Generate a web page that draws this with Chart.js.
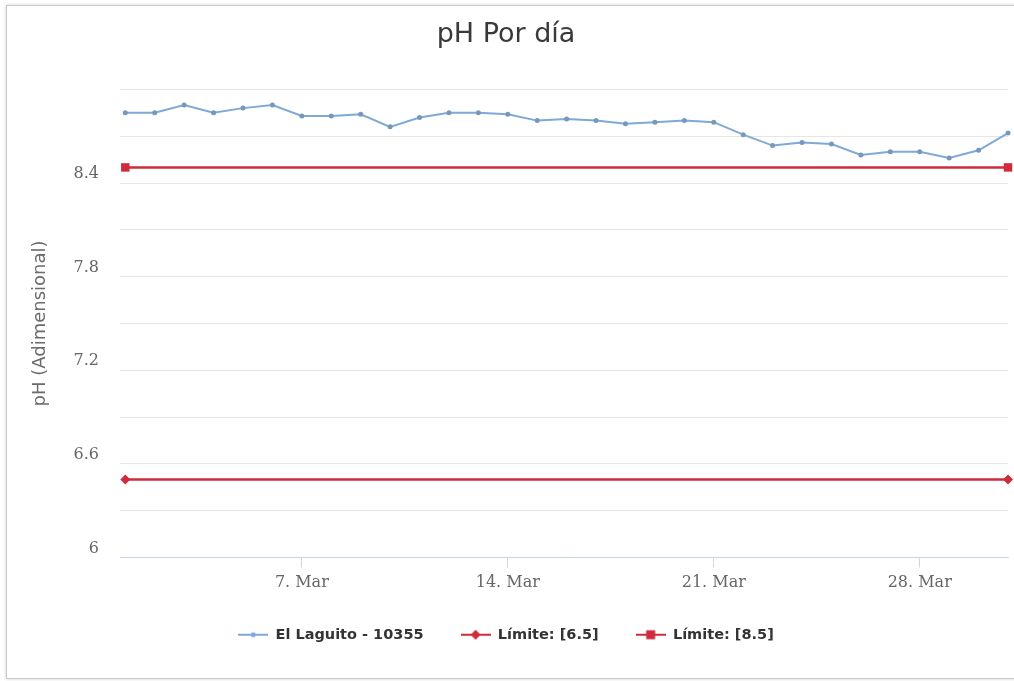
<!DOCTYPE html>
<html>
<head>
<meta charset="utf-8">
<title>pH Por día</title>
<script src="https://cdn.jsdelivr.net/npm/chart.js@4/dist/chart.umd.min.js"></script>
<style>
  body { margin: 0; background: #fff; }
  #frame { position: absolute; left: 6px; top: 5px; width: 1030px; height: 672px; border: 1px solid #c9c9c9; box-shadow: 0 0 3px rgba(0,0,0,.2); }
  #myChart { position: absolute; left: 0; top: 0; }
</style>
</head>
<body>
<div id="frame"></div>
<canvas id="myChart" width="1014" height="681"></canvas>
<script>
// dias de marzo y pH medido
let days = [1, 2, 3, 4, 5, 6, 7, 8, 9, 10, 11, 12, 13, 14, 15, 16, 17, 18, 19, 20, 21, 22, 23, 24, 25, 26, 27, 28, 29, 30, 31];
let phValues = [8.85, 8.85, 8.90, 8.85, 8.88, 8.90, 8.83, 8.83, 8.84, 8.76,
                8.82, 8.85, 8.85, 8.84, 8.80, 8.81, 8.80, 8.78, 8.79, 8.80,
                8.79, 8.71, 8.64, 8.66, 8.65, 8.58, 8.60, 8.60, 8.56, 8.61, 8.72];
let limitDays = [1, 31];
let limitLow = [6.5, 6.5];
let limitHigh = [8.5, 8.5];
let seriesNames = ["El Laguito - 10355", "Límite: [6.5]", "Límite: [8.5]"];
let xTickDays = [7, 14, 21, 28];
let yTickLabels = ["6", "6.6", "7.2", "7.8", "8.4"];

; ((D, B) => {

  let blue = "#7fa9d6";
  let red = "#cf2b3a";

  const pts = (xs, ys) => xs.map((x, i) => ({ x: x, y: ys[i] }));

  // iconos de leyenda: linea con marcador al centro
  const legendIcon = (color, marker) => {
    let c = D.createElement('canvas');
    c.width = 30;
    c.height = 14;
    let g = c.getContext('2d');
    g.strokeStyle = color;
    g.fillStyle = color;
    g.lineWidth = 2;
    g.beginPath();
    g.moveTo(0, 7);
    g.lineTo(30, 7);
    g.stroke();
    g.beginPath();
    if (marker == 'circle') {
      g.arc(15, 7, 2.5, 0, Math.PI * 2);
    } else if (marker == 'diamond') {
      g.moveTo(15, 2); g.lineTo(20, 7); g.lineTo(15, 12); g.lineTo(10, 7);
    } else {
      g.rect(10.5, 2.5, 9, 9);
    }
    g.fill();
    return c;
  };
  let icons = [legendIcon(blue, 'circle'), legendIcon(red, 'diamond'), legendIcon(red, 'square')];

  var ctx = D.querySelector('#myChart').getContext('2d');

  let chart = new Chart(ctx, {
    type: 'line',
    data: {
      datasets: [
        {
          label: seriesNames[0],
          data: pts(days, phValues),
          borderColor: blue,
          borderWidth: 2,
          pointRadius: 2.5,
          pointBackgroundColor: "#7898bb",
          pointBorderWidth: 0,
          tension: 0,
          clip: false,
        },
        {
          label: seriesNames[1],
          data: pts(limitDays, limitLow),
          borderColor: red,
          backgroundColor: red,
          borderWidth: 2.5,
          pointStyle: 'rectRot',
          pointRadius: 5,
          pointBorderWidth: 0,
          clip: false,
        },
        {
          label: seriesNames[2],
          data: pts(limitDays, limitHigh),
          borderColor: red,
          backgroundColor: red,
          borderWidth: 2.5,
          pointStyle: 'rect',
          pointRadius: 6,
          pointBorderWidth: 0,
          clip: false,
        },
      ]
    },
    options: {
      responsive: false,
      animation: false,
      layout: { padding: { left: 0, right: 2, top: 0, bottom: 29 } },
      scales: {
        x: {
          type: 'linear',
          min: 0.82,
          max: 31.0,
          afterBuildTicks: s => { s.ticks = xTickDays.map(v => ({ value: v })); },
          afterFit: s => { s.height = 33; },
          grid: { drawOnChartArea: false, drawTicks: true, tickLength: 10, color: "#ccd6eb" },
          border: { display: true, color: "#ccd6eb" },
          ticks: {
            padding: 6,
            color: "#666",
            font: { family: "DejaVu Serif", size: 16 },
            callback: v => v + ". Mar",
          },
        },
        y: {
          min: 6,
          max: 9,
          afterFit: s => { s.width = 120; },
          grid: { color: "#e6e6e6", drawTicks: false },
          border: { display: false },
          ticks: {
            stepSize: 0.3,
            padding: 21,
            labelOffset: -9,
            color: "#666",
            font: { family: "DejaVu Serif", size: 16 },
            callback: v => {
              let s = String(+(+v).toFixed(1));
              return yTickLabels.includes(s) ? s : '';
            },
          },
          title: {
            display: true,
            text: "pH (Adimensional)",
            color: "#6b6b6b",
            padding: { top: 30 },
            font: { family: "DejaVu Sans", size: 18 },
          },
        },
      },
      plugins: {
        title: {
          display: true,
          text: "pH Por día",
          color: "#3a3a3a",
          font: { family: "DejaVu Sans", size: 27, weight: 'normal' },
          padding: { top: 19, bottom: 38 },
        },
        legend: {
          position: 'bottom',
          labels: {
            usePointStyle: true,
            pointStyleWidth: 30,
            padding: 37,
            color: "#333",
            font: { family: "DejaVu Sans", size: 14.5, weight: 'bold' },
            generateLabels: c => {
              let items = Chart.defaults.plugins.legend.labels.generateLabels(c);
              items.forEach((it, i) => { it.pointStyle = icons[i]; });
              return items;
            },
          },
        },
        tooltip: { enabled: false },
      },
    }
  });
})(document, document.body)
</script>
</body>
</html>
